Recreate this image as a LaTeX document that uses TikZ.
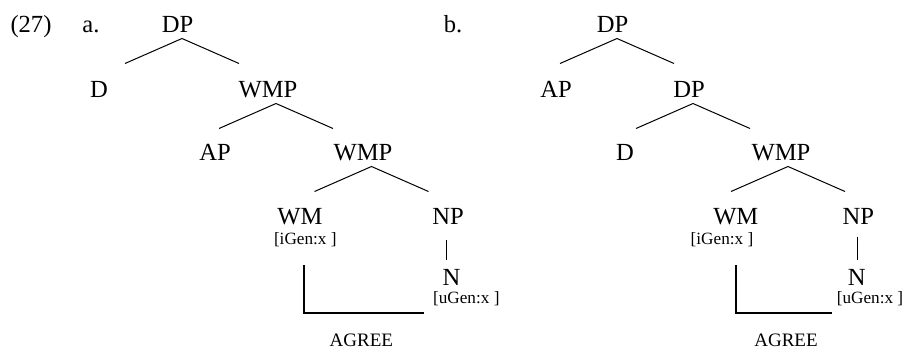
\documentclass[tikz,border=0pt]{standalone}
\usepackage{fontspec}
\setmainfont{Liberation Serif}
\usepackage{tikz}
\usetikzlibrary{calc}

\tikzset{
  cat/.style={font=\fontsize{12.3}{14}\selectfont, inner sep=0pt, anchor=base},
  feat/.style={font=\fontsize{8.6}{10}\selectfont, inner sep=0pt, anchor=base},
  edge/.style={line width=0.5pt},
  agreeline/.style={line width=1pt},
}
%% one "^" under a mother node: #1 node name, #2 horizontal offset of the apex
\newcommand{\branch}[2]{%
  \draw[edge] ([shift={(#2-57,31.5)}]#1.base) -- ++(57,-25) -- ++(57,25);}

\begin{document}
\begin{tikzpicture}[x=0.5pt, y=-0.5pt]
  \useasboundingbox (0,0) rectangle (905,349);

  \node[cat] (ex) at (31,32) {(27)};

  %% --- Tree a ---
  \node[cat] (laba)  at (91,32)    {a.};
  \node[cat] (dpa)   at (177.5,32) {DP};
  \node[cat] (da)    at (99,97)    {D};
  \node[cat] (wmpa)  at (268,97)   {WMP};
  \node[cat] (apa)   at (215,160)  {AP};
  \node[cat] (wmpaa) at (363,160)  {WMP};
  \node[cat] (wma)   at (300,224)  {WM};
  \node[feat] (igena) at (305.3,244) {[iGen:x ]};
  \node[cat] (npa)   at (448,224)  {NP};
  \node[cat] (na)    at (451.5,285) {N};
  \node[feat] (ugena) at (466.3,303.5) {[uGen:x ]};
  \node[feat, font=\fontsize{9.5}{11}\selectfont] (agreea) at (361.3,346.7) {AGREE};

  \branch{dpa}{4.5}
  \branch{wmpa}{8}
  \branch{wmpaa}{8.5}
  \draw[edge] ([shift={(-2,16)}]npa.base) -- ([shift={(-5.5,-25)}]na.base);
  %% agreement bracket
  \draw[agreeline] ([shift={(-1.3,21)}]igena.base) |- ([shift={(-9,9)}]ugena.base west);

  %% --- Tree b ---
  \node[cat] (labb)  at (453,32)   {b.};
  \node[cat] (dpb)   at (612.5,32) {DP};
  \node[cat] (apb)   at (556,97)   {AP};
  \node[cat] (dpbb)  at (689,97)   {DP};
  \node[cat] (db)    at (625,160)  {D};
  \node[cat] (wmpb)  at (781,160)  {WMP};
  \node[cat] (wmb)   at (735.8,224) {WM};
  \node[feat] (igenb) at (722,244) {[iGen:x ]};
  \node[cat] (npb)   at (858.3,224) {NP};
  \node[cat] (nb)    at (856.7,285) {N};
  \node[feat] (ugenb) at (870,303.5) {[uGen:x ]};
  \node[feat, font=\fontsize{9.5}{11}\selectfont] (agreeb) at (786,346.7) {AGREE};

  \branch{dpb}{4.5}
  \branch{dpbb}{4}
  \branch{wmpb}{7}
  \draw[edge] ([shift={(-1,12.7)}]npb.base) -- ([shift={(0.6,-25)}]nb.base);
  %% agreement bracket
  \draw[agreeline] ([shift={(14,21)}]igenb.base) |- ([shift={(-4.6,9)}]ugenb.base west);
\end{tikzpicture}
\end{document}
